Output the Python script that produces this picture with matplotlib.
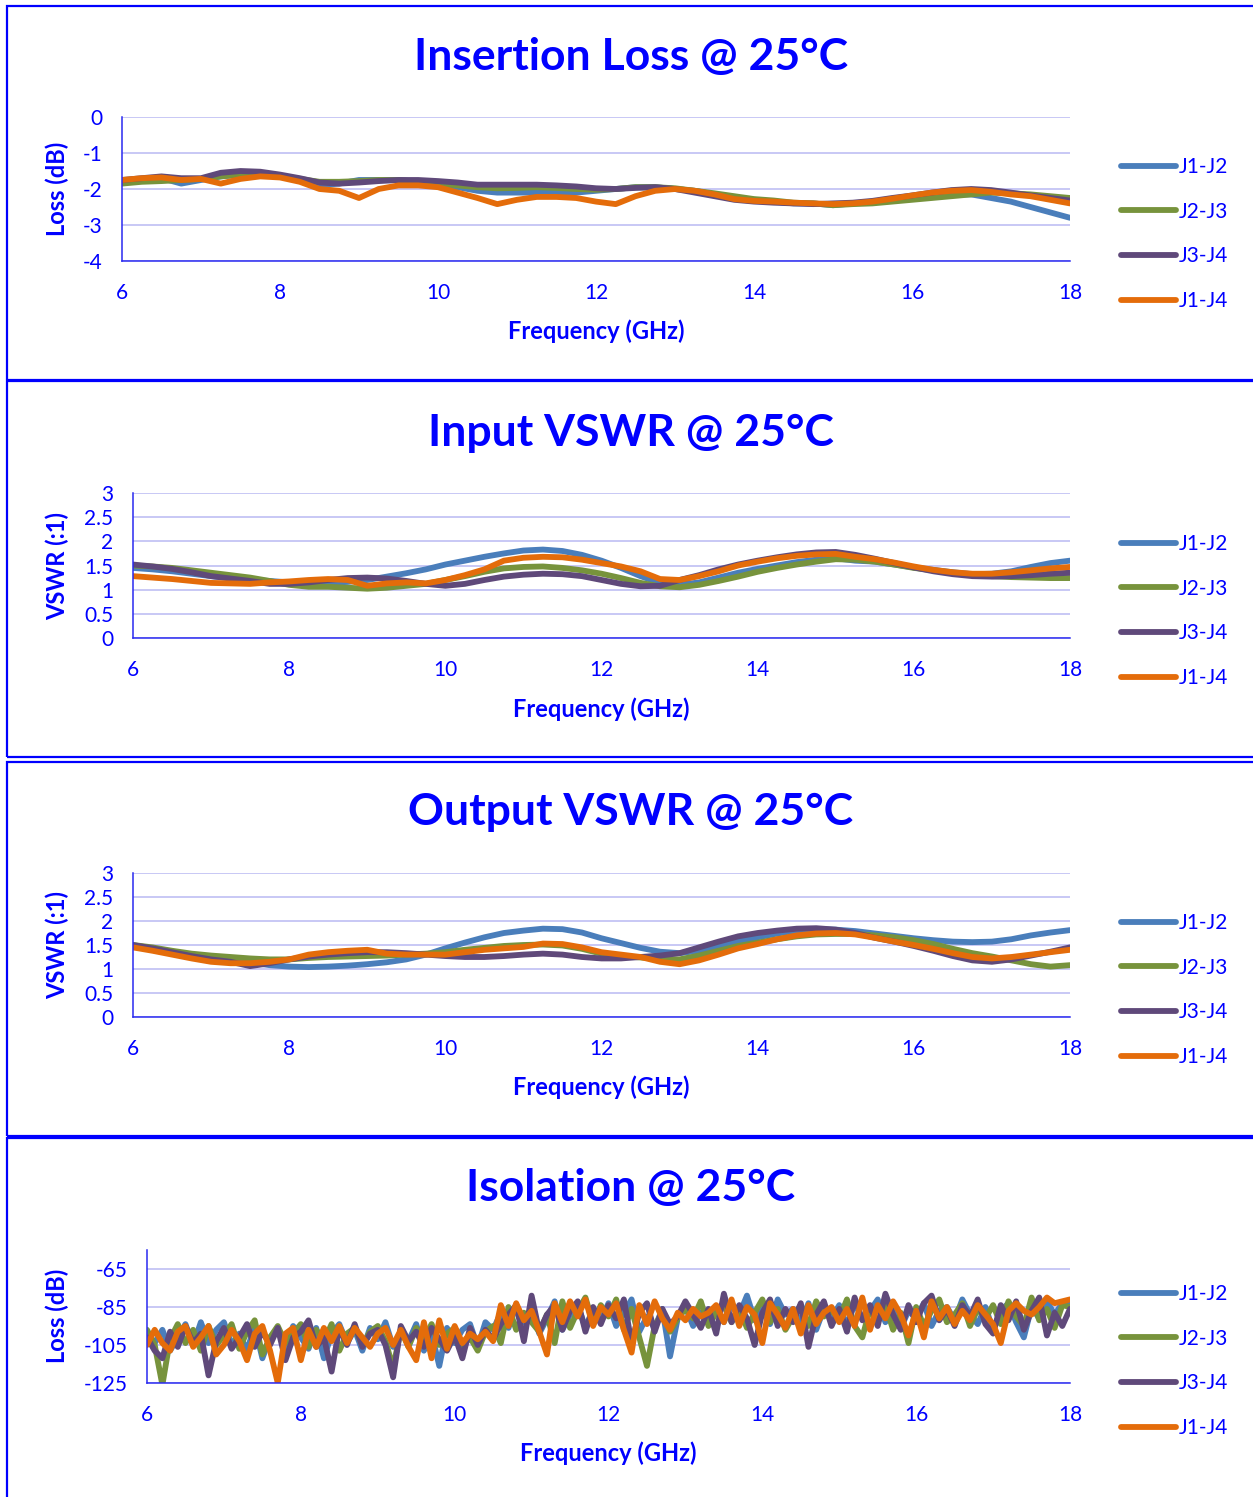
import numpy as np
import matplotlib.pyplot as plt
from matplotlib.patches import Rectangle

plt.rcParams['font.family'] = ['Lato', 'DejaVu Sans']

W, H = 1253, 1497
BLUE_TXT = '#0000FF'
GRID = '#C4C4F4'
series = ['J1-J2', 'J2-J3', 'J3-J4', 'J1-J4']
colors = ['#4A7EBB', '#77933C', '#5F497A', '#E46C0A']

# frequency grids (GHz)
freq = np.arange(6.0, 18.001, 0.25)
freq_iso = np.round(np.arange(6.0, 18.001, 0.1), 1)

# Insertion loss (dB), 0.25 GHz steps
il_j1j2 = [-1.80, -1.75, -1.70, -1.85,
           -1.75, -1.65, -1.60, -1.60,
           -1.65, -1.75, -1.90, -1.85,
           -1.75, -1.75, -1.75, -1.80,
           -1.90, -1.95, -2.05, -2.10,
           -2.10, -2.10, -2.10, -2.10,
           -2.05, -2.00, -1.95, -1.95,
           -2.00, -2.05, -2.15, -2.25,
           -2.30, -2.35, -2.40, -2.40,
           -2.45, -2.40, -2.35, -2.30,
           -2.25, -2.20, -2.15, -2.15,
           -2.25, -2.35, -2.50, -2.65,
           -2.80]
il_j2j3 = [-1.85, -1.80, -1.78, -1.75,
           -1.72, -1.65, -1.60, -1.60,
           -1.65, -1.72, -1.80, -1.80,
           -1.78, -1.75, -1.75, -1.80,
           -1.85, -1.90, -1.95, -1.98,
           -1.97, -1.95, -1.97, -2.00,
           -2.02, -2.00, -1.95, -1.95,
           -1.98, -2.05, -2.12, -2.20,
           -2.28, -2.32, -2.38, -2.40,
           -2.45, -2.42, -2.40, -2.35,
           -2.30, -2.25, -2.20, -2.15,
           -2.10, -2.12, -2.15, -2.20,
           -2.25]
il_j3j4 = [-1.75, -1.70, -1.65, -1.70,
           -1.70, -1.55, -1.50, -1.52,
           -1.60, -1.70, -1.82, -1.85,
           -1.82, -1.78, -1.75, -1.75,
           -1.78, -1.82, -1.88, -1.88,
           -1.88, -1.88, -1.90, -1.93,
           -1.98, -2.00, -1.97, -1.95,
           -2.00, -2.10, -2.20, -2.30,
           -2.35, -2.38, -2.40, -2.42,
           -2.40, -2.38, -2.33, -2.25,
           -2.18, -2.10, -2.03, -2.00,
           -2.03, -2.10, -2.18, -2.25,
           -2.32]
il_j1j4 = [-1.75, -1.70, -1.68, -1.75,
           -1.72, -1.85, -1.72, -1.65,
           -1.68, -1.80, -2.00, -2.05,
           -2.25, -2.00, -1.90, -1.90,
           -1.95, -2.10, -2.25, -2.42,
           -2.30, -2.22, -2.22, -2.25,
           -2.35, -2.42, -2.20, -2.05,
           -2.00, -2.05, -2.15, -2.28,
           -2.33, -2.35, -2.38, -2.40,
           -2.42, -2.40, -2.35, -2.27,
           -2.18, -2.10, -2.05, -2.03,
           -2.08, -2.15, -2.20, -2.30,
           -2.40]

# Input VSWR, 0.25 GHz steps
in_j1j2 = [1.45, 1.42, 1.38, 1.33, 1.28, 1.24, 1.20, 1.18,
           1.15, 1.14, 1.14, 1.16, 1.20, 1.27, 1.34, 1.42,
           1.52, 1.60, 1.68, 1.75, 1.81, 1.83, 1.80, 1.72,
           1.60, 1.45, 1.28, 1.14, 1.10, 1.15, 1.25, 1.35,
           1.43, 1.50, 1.57, 1.62, 1.65, 1.60, 1.58, 1.52,
           1.46, 1.41, 1.36, 1.32, 1.33, 1.38, 1.47, 1.55,
           1.60]
in_j2j3 = [1.50, 1.48, 1.45, 1.40, 1.35, 1.30, 1.25, 1.18,
           1.10, 1.06, 1.06, 1.04, 1.02, 1.04, 1.08, 1.12,
           1.20, 1.28, 1.37, 1.44, 1.47, 1.48, 1.45, 1.40,
           1.33, 1.24, 1.14, 1.07, 1.05, 1.10, 1.18, 1.27,
           1.37, 1.45, 1.52, 1.58, 1.63, 1.62, 1.58, 1.52,
           1.45, 1.40, 1.35, 1.30, 1.28, 1.26, 1.25, 1.24,
           1.24]
in_j3j4 = [1.52, 1.48, 1.43, 1.36, 1.28, 1.23, 1.18, 1.12,
           1.12, 1.15, 1.20, 1.24, 1.25, 1.23, 1.18, 1.12,
           1.08, 1.12, 1.20, 1.27, 1.31, 1.33, 1.32, 1.28,
           1.20, 1.12, 1.07, 1.08, 1.20, 1.30, 1.42, 1.52,
           1.60, 1.67, 1.73, 1.77, 1.78, 1.72, 1.64, 1.55,
           1.46, 1.38, 1.32, 1.28, 1.27, 1.28, 1.30, 1.33,
           1.35]
in_j1j4 = [1.28, 1.25, 1.22, 1.18, 1.14, 1.13, 1.12, 1.15,
           1.17, 1.20, 1.22, 1.20, 1.08, 1.13, 1.15, 1.13,
           1.20, 1.30, 1.42, 1.60, 1.66, 1.68, 1.67, 1.62,
           1.55, 1.48, 1.38, 1.22, 1.20, 1.28, 1.38, 1.50,
           1.58, 1.65, 1.70, 1.73, 1.74, 1.68, 1.63, 1.56,
           1.48, 1.41, 1.36, 1.33, 1.33, 1.36, 1.40, 1.44,
           1.47]

# Output VSWR, 0.25 GHz steps
out_j1j2 = [1.47, 1.42, 1.35, 1.28, 1.22, 1.18, 1.14, 1.08,
            1.05, 1.04, 1.05, 1.07, 1.10, 1.14, 1.20, 1.30,
            1.43, 1.55, 1.66, 1.75, 1.80, 1.84, 1.83, 1.76,
            1.64, 1.54, 1.44, 1.36, 1.33, 1.38, 1.48, 1.58,
            1.66, 1.74, 1.80, 1.83, 1.82, 1.79, 1.74, 1.69,
            1.64, 1.60, 1.57, 1.56, 1.57, 1.62, 1.70, 1.76,
            1.81]
out_j2j3 = [1.50, 1.45, 1.38, 1.32, 1.28, 1.25, 1.22, 1.20,
            1.20, 1.23, 1.25, 1.26, 1.27, 1.28, 1.30, 1.32,
            1.35, 1.40, 1.44, 1.48, 1.50, 1.51, 1.49, 1.42,
            1.32, 1.27, 1.24, 1.21, 1.20, 1.28, 1.38, 1.48,
            1.55, 1.62, 1.68, 1.72, 1.73, 1.73, 1.70, 1.66,
            1.60, 1.52, 1.42, 1.33, 1.26, 1.18, 1.10, 1.05,
            1.08]
out_j3j4 = [1.50, 1.43, 1.35, 1.27, 1.20, 1.15, 1.06, 1.12,
            1.20, 1.26, 1.30, 1.33, 1.35, 1.35, 1.33, 1.30,
            1.27, 1.25, 1.25, 1.27, 1.30, 1.32, 1.30, 1.25,
            1.22, 1.22, 1.25, 1.28, 1.33, 1.45, 1.57, 1.68,
            1.75, 1.80, 1.84, 1.85, 1.82, 1.75, 1.65, 1.57,
            1.48, 1.38, 1.27, 1.18, 1.15, 1.20, 1.28, 1.36,
            1.45]
out_j1j4 = [1.45, 1.38, 1.30, 1.22, 1.15, 1.12, 1.12, 1.15,
            1.20, 1.30, 1.35, 1.38, 1.40, 1.32, 1.30, 1.30,
            1.30, 1.35, 1.40, 1.43, 1.46, 1.53, 1.52, 1.45,
            1.35, 1.30, 1.25, 1.15, 1.10, 1.18, 1.30, 1.43,
            1.52, 1.62, 1.70, 1.74, 1.75, 1.72, 1.65, 1.57,
            1.50, 1.42, 1.33, 1.25, 1.22, 1.25, 1.30, 1.35,
            1.40]

# Isolation (dB), 0.1 GHz steps
iso_j1j2 = [-99, -104, -97, -108, -101, -94, -105, -93, -104, -97,
            -93, -105, -99, -108, -95, -112, -101, -96, -106, -95,
            -101, -107, -96, -112, -99, -94, -104, -97, -108, -96,
            -102, -93, -106, -98, -103, -94, -108, -99, -116, -96,
            -104, -97, -94, -106, -93, -97, -88, -96, -84, -93,
            -87, -99, -91, -82, -97, -89, -84, -96, -86, -92,
            -83, -95, -88, -81, -98, -90, -96, -86, -111, -91,
            -85, -95, -88, -90, -86, -93, -83, -89, -79, -92,
            -85, -94, -81, -89, -86, -93, -83, -97, -86, -91,
            -84, -95, -83, -91, -87, -81, -93, -85, -96, -87,
            -91, -83, -95, -87, -85, -92, -81, -89, -94, -85,
            -97, -87, -83, -93, -101, -85, -91, -82, -89, -83,
            -84]
iso_j2j3 = [-97, -105, -126, -102, -94, -104, -97, -108, -95, -105,
            -100, -94, -107, -98, -92, -110, -101, -95, -104, -99,
            -94, -106, -97, -103, -94, -108, -99, -96, -105, -98,
            -95, -103, -117, -97, -106, -96, -102, -94, -105, -99,
            -96, -106, -101, -108, -98, -95, -104, -85, -97, -88,
            -93, -98, -89, -104, -82, -96, -87, -80, -94, -84,
            -90, -81, -97, -86, -101, -116, -95, -88, -98, -91,
            -86, -91, -82, -95, -88, -84, -93, -86, -96, -88,
            -81, -93, -86, -97, -90, -84, -95, -82, -90, -87,
            -91, -81, -95, -101, -86, -93, -84, -97, -88, -104,
            -85, -95, -87, -81, -93, -89, -83, -95, -86, -91,
            -84, -94, -82, -90, -95, -80, -92, -86, -96, -84,
            -85]
iso_j3j4 = [-101, -108, -112, -98, -106, -95, -104, -99, -121, -103,
            -96, -107, -101, -94, -106, -98, -105, -96, -113, -101,
            -98, -92, -106, -101, -119, -96, -105, -94, -106, -99,
            -97, -105, -122, -95, -103, -98, -106, -96, -102, -108,
            -100, -112, -96, -105, -97, -102, -94, -89, -84, -103,
            -79, -98, -89, -84, -97, -87, -82, -98, -85, -94,
            -84, -91, -81, -104, -88, -83, -98, -86, -94, -90,
            -82, -89, -96, -86, -99, -78, -93, -84, -91, -105,
            -88, -81, -95, -86, -93, -83, -106, -89, -82, -95,
            -86, -98, -80, -92, -84, -95, -78, -89, -97, -84,
            -93, -83, -79, -92, -86, -95, -84, -90, -81, -94,
            -99, -84, -92, -82, -97, -87, -80, -100, -88, -95,
            -86]
iso_j1j4 = [-105, -97, -104, -108, -98, -95, -106, -101, -95, -110,
            -105, -97, -103, -113, -99, -95, -108, -125, -99, -96,
            -113, -97, -106, -96, -103, -95, -104, -96, -101, -106,
            -99, -96, -105, -97, -106, -113, -93, -112, -92, -107,
            -95, -104, -99, -102, -98, -103, -84, -95, -83, -92,
            -87, -98, -110, -83, -93, -82, -90, -81, -95, -85,
            -89, -83, -97, -109, -84, -94, -82, -91, -97, -88,
            -92, -86, -90, -88, -84, -93, -81, -95, -85, -89,
            -104, -83, -89, -96, -86, -99, -84, -94, -88, -85,
            -93, -86, -95, -80, -97, -84, -91, -82, -89, -100,
            -87, -101, -82, -91, -85, -94, -87, -92, -84, -89,
            -94, -104, -87, -83, -87, -89, -85, -80, -83, -82,
            -81]

panels = [
    dict(title='Insertion Loss @ 25°C', ylabel='Loss (dB)', x=freq,
         data=[il_j1j2, il_j2j3, il_j3j4, il_j1j4],
         box=(5.7, 379.5), ax=(122, 117, 261), ylim=(-4, 0),
         yticks=[0, -1, -2, -3, -4], yticklabels=['0', '-1', '-2', '-3', '-4'],
         ty=57, xly=331, xlx=596, yly=189, legy=234),
    dict(title='Input VSWR @ 25°C', ylabel='VSWR (:1)', x=freq,
         data=[in_j1j2, in_j2j3, in_j3j4, in_j1j4],
         box=(381.5, 756.7), ax=(133, 493, 638), ylim=(0, 3),
         yticks=[0, 0.5, 1, 1.5, 2, 2.5, 3],
         yticklabels=['0', '0.5', '1', '1.5', '2', '2.5', '3'],
         ty=433, xly=709, xlx=601, yly=566, legy=611),
    dict(title='Output VSWR @ 25°C', ylabel='VSWR (:1)', x=freq,
         data=[out_j1j2, out_j2j3, out_j3j4, out_j1j4],
         box=(761.7, 1136), ax=(133, 873, 1017), ylim=(0, 3),
         yticks=[0, 0.5, 1, 1.5, 2, 2.5, 3],
         yticklabels=['0', '0.5', '1', '1.5', '2', '2.5', '3'],
         ty=812, xly=1087, xlx=601, yly=945, legy=990),
    dict(title='Isolation @ 25°C', ylabel='Loss (dB)', x=freq_iso,
         data=[iso_j1j2, iso_j2j3, iso_j3j4, iso_j1j4],
         box=(1138, 1510), ax=(147, 1250, 1383), ylim=(-125, -55),
         yticks=[-65, -85, -105, -125], yticklabels=['-65', '-85', '-105', '-125'],
         ty=1188, xly=1453, xlx=608, yly=1316, legy=1361),
]

fig = plt.figure(figsize=(W / 100, H / 100), dpi=100)

for p in panels:
    top, bot = p['box']
    fig.patches.append(Rectangle((6.7 / W, 1 - bot / H), 1.0, (bot - top) / H,
                                 transform=fig.transFigure, fill=False,
                                 edgecolor=BLUE_TXT, linewidth=1.6))
    left, atop, abot = p['ax']
    ax = fig.add_axes([left / W, 1 - abot / H, (1070 - left) / W, (abot - atop) / H])
    for vals, c, name in zip(p['data'], colors, series):
        ax.plot(p['x'], vals, color=c, lw=4.2, label=name,
                solid_capstyle='round', solid_joinstyle='round')
    ax.set_xlim(6, 18)
    ax.set_ylim(*p['ylim'])
    ax.set_xticks(range(6, 19, 2))
    ax.set_yticks(p['yticks'])
    ax.set_yticklabels(p['yticklabels'])
    ax.grid(axis='y', color=GRID, lw=1.3)
    ax.set_axisbelow(True)
    for s in ['top', 'right']:
        ax.spines[s].set_visible(False)
    for s in ['left', 'bottom']:
        ax.spines[s].set_color('#2A2AF0')
        ax.spines[s].set_linewidth(1.1)
    ax.tick_params(length=0, colors=BLUE_TXT, labelsize=15)
    ax.tick_params(axis='y', pad=14)
    ax.tick_params(axis='x', pad=16)

    fig.text(631 / W, 1 - p['ty'] / H, p['title'], ha='center', va='center',
             color=BLUE_TXT, fontsize=32, fontweight='bold')
    fig.text(p['xlx'] / W, 1 - p['xly'] / H, 'Frequency (GHz)', ha='center',
             va='center', color=BLUE_TXT, fontsize=17, fontweight='bold')
    fig.text(57 / W, 1 - p['yly'] / H, p['ylabel'], ha='center', va='center',
             rotation=90, color=BLUE_TXT, fontsize=17, fontweight='bold')

    leg = ax.legend(loc='center left', bbox_to_anchor=(1121 / W, 1 - p['legy'] / H),
                    bbox_transform=fig.transFigure, frameon=False, fontsize=15,
                    handlelength=2.65, handletextpad=0.12, labelspacing=1.18,
                    borderpad=0, borderaxespad=0)
    for t in leg.get_texts():
        t.set_color(BLUE_TXT)

fig.savefig('out.png', dpi=100)
